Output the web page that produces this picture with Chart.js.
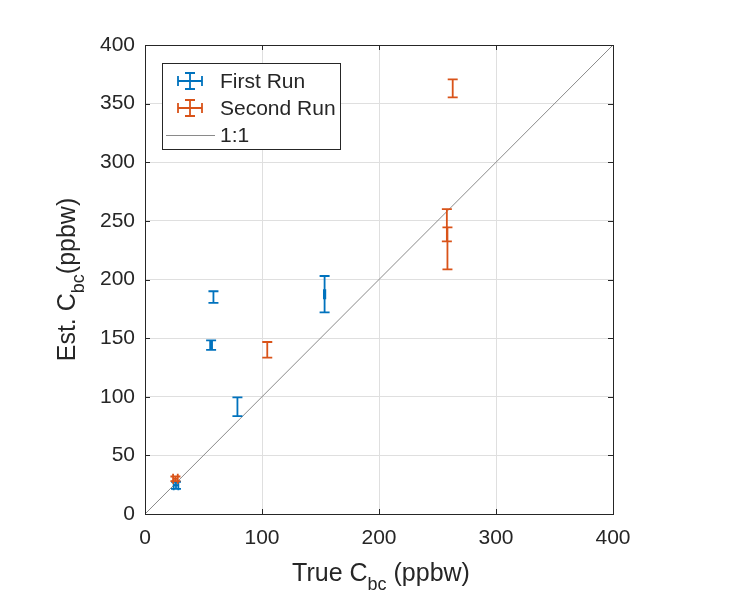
<!DOCTYPE html>
<html>
<head>
<meta charset="utf-8">
<script src="https://cdn.jsdelivr.net/npm/chart.js@4"></script>
<style>
  html, body { margin: 0; padding: 0; background: #fff; }
  #wrap { width: 731px; height: 596px; position: relative; }
</style>
</head>
<body>
<div id="wrap"><canvas id="errChart"></canvas></div>
<script>
// values
const firstX = [26.5, 56.5, 58.5, 79, 153.5];
const firstY = [24.5, 144, 185, 91.5, 187.5];
const firstYErr = [3, 4, 5, 8, 15.5];
const firstXErr = [2, 0.8, 0, 0, 0.6];

const secondX = [26, 104.5, 258, 258.5, 263];
const secondY = [30, 140, 246.3, 226.6, 363];
const secondYErr = [2, 6.7, 13.7, 17.9, 7.6];
const secondXErr = [2, 0, 0, 0, 0];

const xTicks = [0, 100, 200, 300, 400];
const yTicks = [0, 50, 100, 150, 200, 250, 300, 350, 400];
const seriesNames = ["First Run", "Second Run", "1:1"];

const BLUE = "#0072BD";
const ORANGE = "#D95319";
const INK = "#262626";
const FONT = "'Liberation Sans', Arial, sans-serif";

const toPoints = (xs, ys) => xs.map((x, i) => ({ x: x, y: ys[i] }));

// error bars, box, inner ticks, axis titles and legend
const matlabLook = {
  id: "matlabLook",
  afterDatasetsDraw(chart) {
    const ctx = chart.ctx;
    const xs = chart.scales.x, ys = chart.scales.y;
    const cap = 5;
    chart.data.datasets.forEach((ds, di) => {
      if (!ds.yErr) return;
      const meta = chart.getDatasetMeta(di);
      ctx.save();
      ctx.strokeStyle = ds.borderColor;
      ctx.lineWidth = 1.8;
      ds.data.forEach((p, i) => {
        const px = meta.data[i].x, py = meta.data[i].y;
        const yt = ys.getPixelForValue(p.y + ds.yErr[i]);
        const yb = ys.getPixelForValue(p.y - ds.yErr[i]);
        ctx.beginPath();
        ctx.moveTo(px, yt); ctx.lineTo(px, yb);
        ctx.moveTo(px - cap, yt); ctx.lineTo(px + cap, yt);
        ctx.moveTo(px - cap, yb); ctx.lineTo(px + cap, yb);
        if (ds.xErr[i] > 0) {
          const xl = xs.getPixelForValue(p.x - ds.xErr[i]);
          const xr = xs.getPixelForValue(p.x + ds.xErr[i]);
          ctx.moveTo(xl, py); ctx.lineTo(xr, py);
          ctx.moveTo(xl, py - cap); ctx.lineTo(xl, py + cap);
          ctx.moveTo(xr, py - cap); ctx.lineTo(xr, py + cap);
        }
        ctx.stroke();
      });
      ctx.restore();
    });
  },
  afterDraw(chart) {
    const ctx = chart.ctx;
    const a = chart.chartArea;
    const xs = chart.scales.x, ys = chart.scales.y;
    ctx.save();
    // box
    ctx.strokeStyle = INK;
    ctx.lineWidth = 1;
    ctx.strokeRect(Math.round(a.left) + 0.5, Math.round(a.top) + 0.5,
      Math.round(a.right - a.left), Math.round(a.bottom - a.top));
    // ticks pointing inward
    ctx.beginPath();
    xs.ticks.forEach(t => {
      const x = Math.round(xs.getPixelForValue(t.value)) + 0.5;
      ctx.moveTo(x, a.bottom); ctx.lineTo(x, a.bottom - 5);
      ctx.moveTo(x, a.top); ctx.lineTo(x, a.top + 5);
    });
    ys.ticks.forEach(t => {
      const y = Math.round(ys.getPixelForValue(t.value)) + 0.5;
      ctx.moveTo(a.left, y); ctx.lineTo(a.left + 5, y);
      ctx.moveTo(a.right, y); ctx.lineTo(a.right - 5, y);
    });
    ctx.stroke();

    // axis titles with subscripts
    ctx.fillStyle = INK;
    const rich = (parts) => {
      const main = "25px " + FONT, sub = "18px " + FONT;
      let w = 0;
      parts.forEach(p => { ctx.font = p[1] ? sub : main; w += ctx.measureText(p[0]).width; });
      let x = -w / 2;
      ctx.textAlign = "left";
      ctx.textBaseline = "alphabetic";
      parts.forEach(p => {
        ctx.font = p[1] ? sub : main;
        ctx.fillText(p[0], x, p[1] ? 9 : 0);
        x += ctx.measureText(p[0]).width;
      });
    };
    ctx.save();
    ctx.translate((a.left + a.right) / 2 + 2, 581);
    rich([["True C", false], ["bc", true], [" (ppbw)", false]]);
    ctx.restore();
    ctx.save();
    ctx.translate(75, (a.top + a.bottom) / 2);
    ctx.rotate(-Math.PI / 2);
    rich([["Est. C", false], ["bc", true], ["(ppbw)", false]]);
    ctx.restore();

    // legend
    const lx = 162, ly = 63, lw = 178, lh = 86;
    ctx.fillStyle = "#fff";
    ctx.fillRect(lx, ly, lw, lh);
    ctx.strokeStyle = INK;
    ctx.lineWidth = 1;
    ctx.strokeRect(lx + 0.5, ly + 0.5, lw, lh);
    const rows = [81, 108, 135];
    chart.data.datasets.forEach((ds, di) => {
      const cy = rows[di];
      ctx.strokeStyle = ds.borderColor;
      ctx.beginPath();
      if (ds.yErr) {
        ctx.lineWidth = 1.8;
        const cx = 190;
        ctx.moveTo(cx, cy - 8); ctx.lineTo(cx, cy + 8);
        ctx.moveTo(cx - 5, cy - 8); ctx.lineTo(cx + 5, cy - 8);
        ctx.moveTo(cx - 5, cy + 8); ctx.lineTo(cx + 5, cy + 8);
        ctx.moveTo(cx - 12, cy); ctx.lineTo(cx + 12, cy);
        ctx.moveTo(cx - 12, cy - 5); ctx.lineTo(cx - 12, cy + 5);
        ctx.moveTo(cx + 12, cy - 5); ctx.lineTo(cx + 12, cy + 5);
      } else {
        ctx.lineWidth = 1;
        ctx.moveTo(166, cy + 0.5); ctx.lineTo(215, cy + 0.5);
      }
      ctx.stroke();
      ctx.fillStyle = INK;
      ctx.font = "21px " + FONT;
      ctx.textAlign = "left";
      ctx.textBaseline = "middle";
      ctx.fillText(ds.label, 220, cy + 1);
    });
    ctx.restore();
  }
};

const ctx = document.getElementById("errChart").getContext("2d");

const errChart = new Chart(ctx, {
  type: "scatter",
  data: {
    datasets: [
      {
        label: seriesNames[0],
        data: toPoints(firstX, firstY),
        yErr: firstYErr,
        xErr: firstXErr,
        borderColor: BLUE,
        backgroundColor: BLUE,
        pointRadius: 0,
      },
      {
        label: seriesNames[1],
        data: toPoints(secondX, secondY),
        yErr: secondYErr,
        xErr: secondXErr,
        borderColor: ORANGE,
        backgroundColor: ORANGE,
        pointRadius: 0,
      },
      {
        type: "line",
        label: seriesNames[2],
        data: [{ x: xTicks[0], y: yTicks[0] }, { x: xTicks[xTicks.length - 1], y: yTicks[yTicks.length - 1] }],
        borderColor: "#8a8a8a",
        borderWidth: 1,
        pointRadius: 0,
        fill: false,
      },
    ],
  },
  options: {
    responsive: true,
    maintainAspectRatio: false,
    animation: false,
    layout: { padding: { left: 0, top: 45, right: 118, bottom: 0 } },
    plugins: {
      legend: { display: false },
      tooltip: { enabled: false },
    },
    scales: {
      x: {
        type: "linear",
        min: 0,
        max: 400,
        afterBuildTicks: s => { s.ticks = xTicks.map(v => ({ value: v })); },
        afterFit: s => { s.height = 82; },
        grid: { color: "#dfdfdf", drawTicks: false },
        border: { display: false },
        ticks: { color: INK, padding: 12, font: { family: FONT, size: 21 } },
      },
      y: {
        type: "linear",
        min: 0,
        max: 400,
        afterBuildTicks: s => { s.ticks = yTicks.map(v => ({ value: v })); },
        afterFit: s => { s.width = 145; },
        grid: { color: "#dfdfdf", drawTicks: false },
        border: { display: false },
        ticks: { color: INK, padding: 10, font: { family: FONT, size: 21 } },
      },
    },
  },
  plugins: [matlabLook],
});
</script>
</body>
</html>
